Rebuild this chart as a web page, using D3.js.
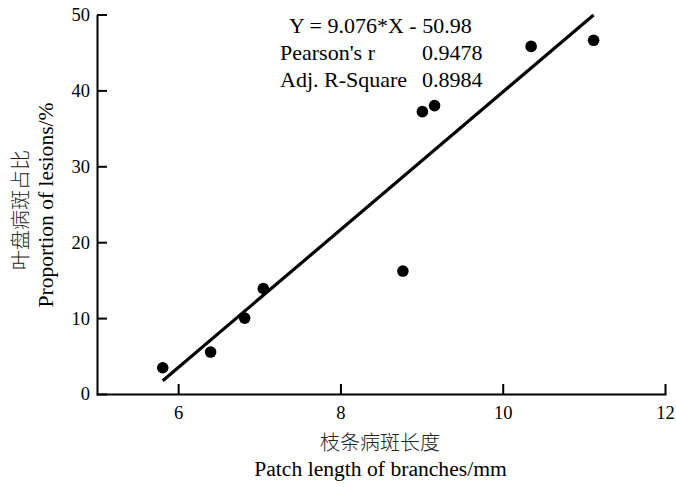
<!DOCTYPE html>
<html>
<head>
<meta charset="utf-8">
<script src="https://cdn.jsdelivr.net/npm/d3@7"></script>
<style>
  html, body { margin: 0; padding: 0; background: #fff; }
  svg { display: block; }
</style>
</head>
<body>
<svg id="chart" width="676" height="487"></svg>
<script>
// ---- data ----
const patchLength = [5.81, 6.40, 6.82, 7.05, 8.77, 9.01, 9.16, 10.35, 11.12];
const lesionProportion = [3.46, 5.53, 10.0, 13.9, 16.2, 37.2, 38.0, 45.8, 46.6];
const xTicks = [6, 8, 10, 12];
const yTicks = [0, 10, 20, 30, 40, 50];
const fitSlope = 9.076;
const fitIntercept = -50.98;
const statLabels = ["Pearson's r", "Adj. R-Square"];
const statValues = ["0.9478", "0.8984"];
const equationText = "Y = 9.076*X - 50.98";
const xTitle = ["枝条病斑长度", "Patch length of branches/mm"];
const yTitle = ["叶盘病斑占比", "Proportion of lesions/%"];

const serif = "'Liberation Serif', 'Times New Roman', serif";
const cjk = "'Noto Sans CJK SC', sans-serif";

const svg = d3.select("#chart");
const x = d3.scaleLinear().domain([5, 12]).range([97, 665]);
const y = d3.scaleLinear().domain([0, 50]).range([394, 14.5]);

// axes
const xAxis = d3.axisBottom(x).tickValues(xTicks).tickFormat(d3.format("d"))
  .tickSizeInner(-10).tickSizeOuter(0).tickPadding(12);
const yAxis = d3.axisLeft(y).tickValues(yTicks).tickFormat(d3.format("d"))
  .tickSizeInner(-10).tickSizeOuter(0).tickPadding(7);

const gx = svg.append("g").attr("transform", "translate(0,394)").call(xAxis);
const gy = svg.append("g").attr("transform", "translate(97,0)").call(yAxis);
[gx, gy].forEach(g => {
  g.attr("font-family", serif).attr("font-size", 18.5);
  g.selectAll("path, line").attr("stroke", "#000").attr("stroke-width", 2);
  g.selectAll("text").style("font-family", serif).style("font-size", "18.5px").attr("fill", "#000");
});
gx.select(".domain").attr("stroke-linecap", "square");

// regression line
const xMin = d3.min(patchLength), xMax = d3.max(patchLength);
svg.append("line")
  .attr("x1", x(xMin)).attr("y1", y(fitSlope * xMin + fitIntercept))
  .attr("x2", x(xMax)).attr("y2", y(fitSlope * xMax + fitIntercept))
  .attr("stroke", "#000").attr("stroke-width", 3.2);

// points
svg.append("g").selectAll("circle")
  .data(patchLength.map((v, i) => [v, lesionProportion[i]]))
  .join("circle")
  .attr("cx", d => x(d[0])).attr("cy", d => y(d[1]))
  .attr("r", 5.8).attr("fill", "#000");

// annotation
const ann = svg.append("g").style("font-family", serif).style("font-size", "22px").attr("fill", "#000");
ann.append("text").attr("x", 289).attr("y", 33).text(equationText);
statLabels.forEach((s, i) => {
  ann.append("text").attr("x", 280).attr("y", 60 + i * 27).text(s);
  ann.append("text").attr("x", 422).attr("y", 60 + i * 27).text(statValues[i]);
});

// x title
svg.append("text").attr("x", 380).attr("y", 450).attr("text-anchor", "middle")
  .style("font-family", cjk).style("font-size", "20px").style("font-weight", 300)
  .attr("fill", "#222").text(xTitle[0]);
svg.append("text").attr("x", 380.5).attr("y", 475.5).attr("text-anchor", "middle")
  .style("font-family", serif).style("font-size", "21.6px").attr("fill", "#000").text(xTitle[1]);

// y title
svg.append("text").attr("transform", "translate(27.5,210) rotate(-90)").attr("text-anchor", "middle")
  .style("font-family", cjk).style("font-size", "20px").style("font-weight", 300)
  .attr("fill", "#222").text(yTitle[0]);
svg.append("text").attr("transform", "translate(53,205) rotate(-90)").attr("text-anchor", "middle")
  .style("font-family", serif).style("font-size", "21.6px").attr("fill", "#000").text(yTitle[1]);
</script>
</body>
</html>
